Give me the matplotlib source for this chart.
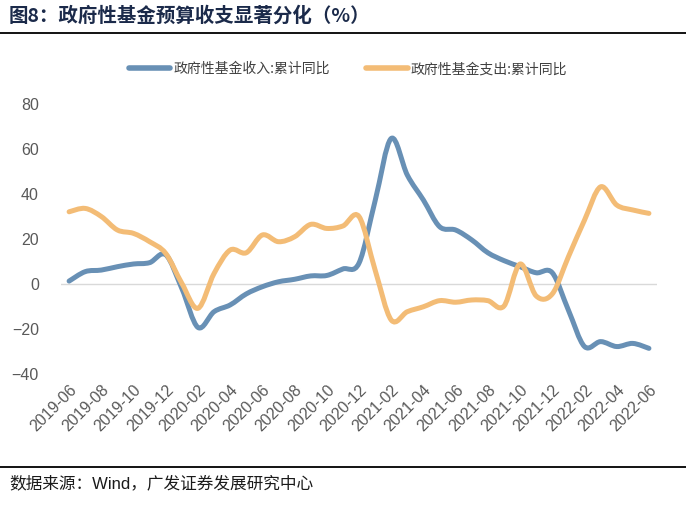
import numpy as np
import matplotlib.pyplot as plt
from matplotlib.path import Path
from matplotlib.patches import PathPatch
from matplotlib.lines import Line2D

plt.rcParams['font.family'] = ['Liberation Sans', 'Noto Sans CJK SC', 'DejaVu Sans']

# monthly data, 2019-06 .. 2022-06
months = ["2019-06", "2019-07", "2019-08", "2019-09", "2019-10", "2019-11", "2019-12",
          "2020-01", "2020-02", "2020-03", "2020-04", "2020-05", "2020-06", "2020-07",
          "2020-08", "2020-09", "2020-10", "2020-11", "2020-12", "2021-01", "2021-02",
          "2021-03", "2021-04", "2021-05", "2021-06", "2021-07", "2021-08", "2021-09",
          "2021-10", "2021-11", "2021-12", "2022-01", "2022-02", "2022-03", "2022-04",
          "2022-05", "2022-06"]
income = [1.3, 5.5, 6.2, 7.7, 8.9, 9.5, 13.0,
          -2.0, -19.3, -12.3, -9.3, -4.4, -1.2, 1.0,
          2.1, 3.6, 3.8, 6.7, 9.3, 37.0, 64.7,
          48.4, 37.3, 25.5, 24.0, 19.6, 13.9, 10.4,
          7.7, 5.0, 5.0, -11.6, -27.8, -25.6, -27.8,
          -26.4, -28.6]
expend = [32.1, 33.6, 30.0, 24.0, 22.5, 18.8, 13.6,
          0.3, -10.8, 4.7, 15.1, 13.9, 21.8, 18.8,
          21.0, 26.5, 24.7, 25.8, 30.0, 6.2, -16.0,
          -12.3, -10.1, -7.4, -8.1, -7.1, -7.4, -9.8,
          8.9, -5.3, -4.4, 12.1, 28.4, 43.2, 35.1,
          32.9, 31.4]
labels = ["政府性基金收入:累计同比", "政府性基金支出:累计同比"]
colors = ["#6890B5", "#F3BC76"]


def smooth_path(x, y, t=1 / 6):
    # Excel-style smoothed line as cubic bezier segments
    x = np.asarray(x, float)
    y = np.asarray(y, float)
    verts = [(x[0], y[0])]
    codes = [Path.MOVETO]
    n = len(x)
    for i in range(n - 1):
        x0, y0 = (x[i - 1], y[i - 1]) if i > 0 else (x[i], y[i])
        x3, y3 = (x[i + 2], y[i + 2]) if i + 2 < n else (x[i + 1], y[i + 1])
        c1 = (x[i] + (x[i + 1] - x0) * t, y[i] + (y[i + 1] - y0) * t)
        c2 = (x[i + 1] - (x3 - x[i]) * t, y[i + 1] - (y3 - y[i]) * t)
        verts += [c1, c2, (x[i + 1], y[i + 1])]
        codes += [Path.CURVE4] * 3
    return Path(verts, codes)


fig = plt.figure(figsize=(6.86, 5.05), dpi=100)
ax = fig.add_axes([0.089, 0.2594, 0.8687, 0.5346])

xs = np.arange(len(months))
ax.axhline(0, color="#D9D9D9", lw=1.0, zorder=1)
for ys, c in zip([income, expend], colors):
    ax.add_patch(PathPatch(smooth_path(xs, ys), facecolor="none", edgecolor=c,
                           lw=3.6, capstyle="round", joinstyle="round", zorder=3))

ax.set_xlim(-0.5, len(months) - 0.5)
ax.set_ylim(-40, 80)
ax.set_yticks(np.arange(-40, 81, 20))
ax.set_xticks(xs[::2])
ax.set_xticklabels(months[::2], rotation=45, ha="right", rotation_mode="anchor")
ax.tick_params(axis="both", length=0, labelsize=11.5, colors="#595959")
ax.tick_params(axis="y", pad=16)
ax.tick_params(axis="x", pad=6)
for s in ax.spines.values():
    s.set_visible(False)

handles = [Line2D([], [], color=c, lw=4, solid_capstyle="round") for c in colors]
fig.legend(handles, labels, loc="center", bbox_to_anchor=(0.507, 0.863), ncol=2,
           frameon=False, handlelength=3.0, handletextpad=0.2,
           columnspacing=2.6, labelcolor="#404040",
           prop={"family": ["Noto Sans CJK SC"], "size": 10})

fig.text(0.012, 0.968, "图8：政府性基金预算收支显著分化（%）", fontsize=14,
         fontweight="bold", color="#1B2A4A", va="center", ha="left",
         family=["Noto Sans CJK SC"])
fig.add_artist(Line2D([0, 1], [0.935, 0.935], color="black", lw=1.3,
                      transform=fig.transFigure))
fig.add_artist(Line2D([0, 1], [0.075, 0.075], color="black", lw=1.3,
                      transform=fig.transFigure))
fig.text(0.014, 0.042, "数据来源：Wind，广发证券发展研究中心", fontsize=12,
         color="#1a1a1a", va="center", ha="left",
         family=["Liberation Sans", "Noto Sans CJK SC"])

fig.savefig("out.png", dpi=100)
